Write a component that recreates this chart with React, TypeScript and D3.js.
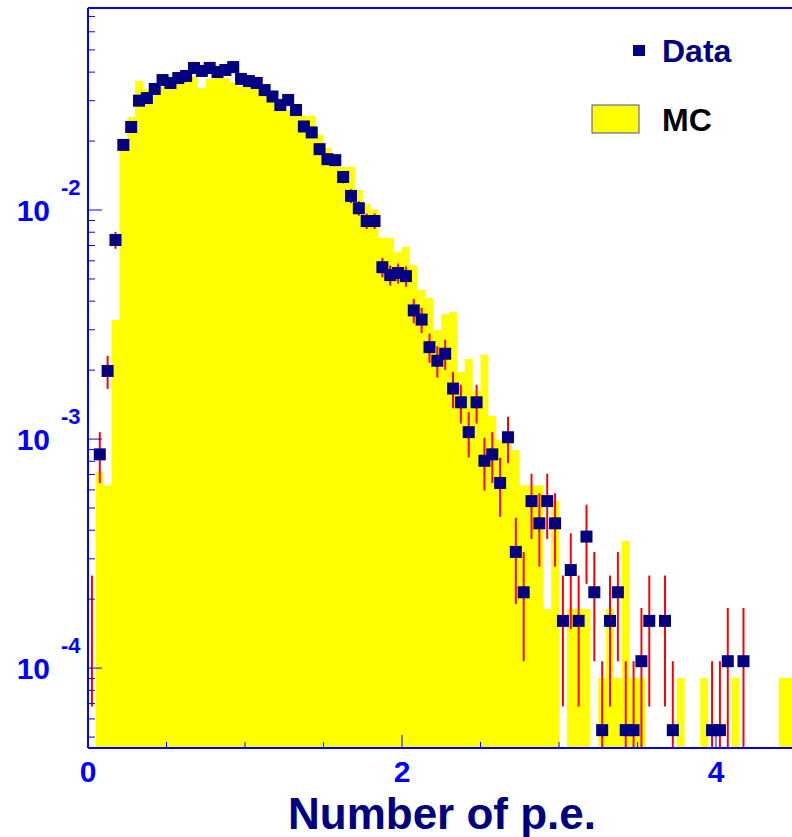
import React from "react";
import * as d3 from "d3";

// ---- data (counts per 0.05 p.e. bin, 90 bins from 0 to 4.5) ----
const BIN_EDGES_START = 0;
const BIN_WIDTH = 0.05;
const DATA_COUNTS: number[] = [
  3, 16, 37, 138, 359, 430, 560, 575, 630, 689,
  669, 703, 718, 778, 755, 778, 747, 762, 785, 697,
  682, 669, 623, 584, 536, 564, 510, 432, 407, 344,
  311, 308, 260, 215, 190, 167, 167, 105, 97, 99,
  96, 68, 62, 47, 41, 44, 31, 27, 20, 27,
  15, 16, 12, 19, 6, 4, 10, 8, 10, 8,
  3, 5, 3, 7, 4, 1, 3, 4, 1, 1,
  2, 3, 0, 3, 1, 0, 0, 0, 0, 1,
  1, 2, 0, 2, 0, 0, 0, 0, 0, 0,
];
// MC expressed in the same (data-count equivalent) units
const MC_VALUES: number[] = [
  0, 13.4, 11.7, 61.7, 341, 475, 682, 630, 593, 643,
  643, 662, 676, 711, 636, 697, 703, 703, 676, 649,
  643, 636, 611, 564, 542, 510, 485, 481, 481, 398,
  348, 324, 288, 288, 228, 198, 187, 141, 141, 122,
  129, 107, 83.5, 77, 55.8, 65.6, 66.9, 36.6, 41.7, 30.2,
  43.4, 23.5, 18.5, 18.5, 16.7, 11.7, 11.7, 11.7, 3.38, 10.0,
  0, 3.38, 3.38, 3.38, 0, 1.69, 3.38, 1.69, 6.69, 1.69,
  1.69, 0, 0, 0, 0, 1.69, 0, 0, 1.69, 0,
  0, 0, 1.69, 0, 0, 0, 0, 0, 1.69, 1.69,
];
const NORM = 5.36e-5; // probability per count

const X_MAJOR_TICKS = [0, 2, 4];
const X_MINOR_STEP = 0.5;
const Y_MAJOR_EXPONENTS = [-2, -3, -4];
const X_TITLE = "Number of p.e.";
const LEGEND_DATA = "Data";
const LEGEND_MC = "MC";

// ---- layout ----
const W = 792;
const H = 837;
const LEFT = 88;
const TOP = 8;
const BOTTOM = 748;
const PX_PER_UNIT = 157;
const X_MAX = 4.5;
const Y_MIN = 4.48e-5;
const Y_MAX = 0.0762;

const AXIS_BLUE = "#0000ff";
const NAVY = "#000080";
const FONT = "'Liberation Sans', Arial, Helvetica, sans-serif";

export default function App() {
  const x = d3.scaleLinear().domain([0, X_MAX]).range([LEFT, LEFT + X_MAX * PX_PER_UNIT]);
  const y = d3.scaleLog().domain([Y_MIN, Y_MAX]).range([BOTTOM, TOP]);
  const right = x(X_MAX);

  const nb = DATA_COUNTS.length;
  const lo = (i: number) => BIN_EDGES_START + i * BIN_WIDTH;

  // MC step path
  let mcPath = `M${x(lo(0))},${BOTTOM}`;
  for (let i = 0; i < nb; i++) {
    const v = MC_VALUES[i] * NORM;
    const yy = v > 0 ? Math.min(BOTTOM, y(v)) : BOTTOM;
    mcPath += `L${x(lo(i))},${yy}L${x(lo(i + 1))},${yy}`;
  }
  mcPath += `L${x(lo(nb))},${BOTTOM}Z`;

  const MS = 12;
  const points = DATA_COUNTS.map((c, i) => {
    const cx = x(lo(i) + BIN_WIDTH / 2);
    if (c <= 0) return null;
    const e = Math.sqrt(c);
    const yc = y(c * NORM);
    const yHi = y((c + e) * NORM);
    const loV = (c - e) * NORM;
    const yLo = loV > Y_MIN ? y(loV) : BOTTOM;
    return { cx, yc, yHi, yLo, showMarker: cx - MS / 2 >= LEFT };
  }).filter(Boolean) as { cx: number; yc: number; yHi: number; yLo: number; showMarker: boolean }[];

  // ticks
  const xMinor: number[] = [];
  for (let t = 0; t <= X_MAX + 1e-9; t += X_MINOR_STEP) {
    if (!X_MAJOR_TICKS.some((m) => Math.abs(m - t) < 1e-9)) xMinor.push(t);
  }
  const yMinor: number[] = [];
  for (let p = -5; p <= -1; p++) {
    for (let k = 2; k <= 9; k++) {
      const v = k * Math.pow(10, p);
      if (v > Y_MIN && v < Y_MAX) yMinor.push(v);
    }
  }

  return (
    <svg
      width={W}
      height={H}
      style={{ position: "absolute", left: 0, top: 0, background: "#fff" }}
      fontFamily={FONT}
    >
      <defs>
        <clipPath id="plot">
          <rect x={LEFT} y={TOP} width={right - LEFT} height={BOTTOM - TOP} />
        </clipPath>
      </defs>
      <g clipPath="url(#plot)">
        <path d={mcPath} fill="#ffff00" stroke="none" />
        {points.map((p, i) => (
          <line key={"e" + i} x1={p.cx} x2={p.cx} y1={p.yHi} y2={p.yLo} stroke="#ff0000" strokeWidth={2} />
        ))}
        {points
          .filter((p) => p.showMarker)
          .map((p, i) => (
            <rect key={"m" + i} x={p.cx - MS / 2} y={p.yc - MS / 2} width={MS} height={MS} fill={NAVY} />
          ))}
      </g>

      {/* axes */}
      <line x1={LEFT} x2={W} y1={TOP} y2={TOP} stroke={AXIS_BLUE} strokeWidth={2} />
      <line x1={LEFT} x2={LEFT} y1={TOP} y2={BOTTOM} stroke={AXIS_BLUE} strokeWidth={2} />
      <line x1={LEFT} x2={W} y1={BOTTOM} y2={BOTTOM} stroke={AXIS_BLUE} strokeWidth={2} />

      {X_MAJOR_TICKS.map((t) => (
        <g key={"xt" + t}>
          <line x1={x(t)} x2={x(t)} y1={BOTTOM} y2={BOTTOM - 13} stroke={AXIS_BLUE} strokeWidth={1} />
          <text x={x(t)} y={782} textAnchor="middle" fontSize={30} fontWeight="bold" fill={AXIS_BLUE}>
            {t}
          </text>
        </g>
      ))}
      {xMinor.map((t) => (
        <line key={"xm" + t} x1={x(t)} x2={x(t)} y1={BOTTOM} y2={BOTTOM - 6} stroke={AXIS_BLUE} strokeWidth={1} />
      ))}

      {Y_MAJOR_EXPONENTS.map((p) => {
        const yy = y(Math.pow(10, p));
        return (
          <g key={"yt" + p}>
            <line x1={LEFT} x2={LEFT + 14} y1={yy} y2={yy} stroke={AXIS_BLUE} strokeWidth={1} />
            <text x={50} y={yy + 11} textAnchor="end" fontSize={30} fontWeight="bold" fill={AXIS_BLUE}>
              10
            </text>
            <text x={61} y={yy - 15} textAnchor="start" fontSize={22} fontWeight="bold" fill={AXIS_BLUE}>
              {String(p)}
            </text>
          </g>
        );
      })}
      {yMinor.map((v, i) => (
        <line key={"ym" + i} x1={LEFT} x2={LEFT + 7} y1={y(v)} y2={y(v)} stroke={AXIS_BLUE} strokeWidth={1} />
      ))}

      <text x={442} y={829} textAnchor="middle" fontSize={44} fontWeight="bold" fill={NAVY}>
        {X_TITLE}
      </text>

      {/* legend */}
      <rect x={633} y={45} width={12} height={11} fill={NAVY} />
      <text x={662} y={62} fontSize={32} fontWeight="bold" fill={NAVY}>
        {LEGEND_DATA}
      </text>
      <rect x={592} y={105} width={47} height={28} fill="#ffff00" stroke="#4a4a9a" strokeWidth={1} />
      <text x={662} y={131} fontSize={32} fontWeight="bold" fill="#000">
        {LEGEND_MC}
      </text>
    </svg>
  );
}
